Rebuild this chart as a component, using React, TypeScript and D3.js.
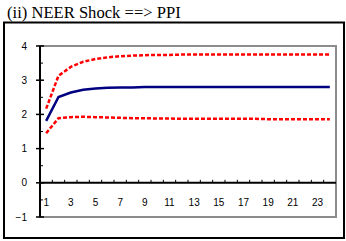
import * as d3 from "d3";

// period index of the impulse response (1..24)
const periods = d3.range(1, 25);
const xTickLabels = [1, 3, 5, 7, 9, 11, 13, 15, 17, 19, 21, 23];
const yTicks = [-1, 0, 1, 2, 3, 4];

// point estimate
const response = [
  1.81, 2.51, 2.64, 2.72, 2.76, 2.78, 2.79, 2.79, 2.8, 2.8, 2.8, 2.8,
  2.8, 2.8, 2.8, 2.8, 2.8, 2.8, 2.8, 2.8, 2.8, 2.8, 2.8, 2.8,
];
// upper confidence band
const upper = [
  2.17, 3.13, 3.39, 3.54, 3.62, 3.67, 3.7, 3.72, 3.73, 3.74, 3.74, 3.75,
  3.75, 3.75, 3.75, 3.75, 3.75, 3.75, 3.75, 3.75, 3.75, 3.75, 3.75, 3.75,
];
// lower confidence band
const lower = [
  1.45, 1.89, 1.92, 1.93, 1.92, 1.91, 1.9, 1.89, 1.89, 1.88, 1.88, 1.87,
  1.87, 1.87, 1.87, 1.87, 1.87, 1.87, 1.86, 1.86, 1.86, 1.86, 1.86, 1.86,
];

export default function App() {
  const width = 346;
  const height = 241;
  const plot = { left: 40, right: 336, top: 46, bottom: 217 };

  const x = d3
    .scaleBand<number>()
    .domain(periods)
    .range([plot.left, plot.right]);
  const y = d3.scaleLinear().domain([-1, 4]).range([plot.bottom, plot.top]);
  const cx = (p: number) => (x(p) ?? 0) + x.bandwidth() / 2;

  const line = (vals: number[]) =>
    d3
      .line<number>()
      .x((_, i) => cx(periods[i]))
      .y((d) => y(d))(vals) ?? "";

  const fmt = d3.format("d");
  const minor = d3.range(-0.5, 4, 1);
  const font = "'Liberation Sans', Arial, sans-serif";

  return (
    <svg
      width={width}
      height={height}
      style={{ position: "fixed", left: 0, top: 0, background: "#fff" }}
    >
      <text
        x={7}
        y={18}
        fontFamily="'Liberation Serif', 'Times New Roman', serif"
        fontSize={16.6}
      >
        (ii) NEER Shock ==&gt; PPI
      </text>
      <rect x={4} y={22.5} width={340} height={215.5} fill="none" stroke="#000" strokeWidth={2} />

      {/* plot area frame */}
      <rect
        x={plot.left}
        y={plot.top}
        width={plot.right - plot.left}
        height={plot.bottom - plot.top}
        fill="none"
        stroke="#8c8c8c"
        strokeWidth={2}
      />

      {/* value axis */}
      <line x1={plot.left} x2={plot.left} y1={plot.top} y2={plot.bottom} stroke="#000" strokeWidth={2} />
      {yTicks.map((t) => (
        <g key={t}>
          <line x1={plot.left - 4} x2={plot.left + 4} y1={y(t)} y2={y(t)} stroke="#000" strokeWidth={1.5} />
          <text
            x={27}
            y={y(t)}
            dy="0.35em"
            textAnchor="end"
            fontFamily={font}
            fontSize={10}
          >
            {fmt(t)}
          </text>
        </g>
      ))}
      {minor.map((t) => (
        <line key={t} x1={plot.left} x2={plot.left + 3} y1={y(t)} y2={y(t)} stroke="#000" strokeWidth={1} />
      ))}

      {/* category axis crossing at 0 */}
      <line x1={plot.left} x2={plot.right} y1={y(0)} y2={y(0)} stroke="#000" strokeWidth={2} />
      {periods.slice(1).map((p) => (
        <line
          key={p}
          x1={x(p)}
          x2={x(p)}
          y1={y(0) - 3}
          y2={y(0)}
          stroke="#000"
          strokeWidth={1}
        />
      ))}
      {xTickLabels.map((p) => (
        <text
          key={p}
          x={cx(p)}
          y={y(0) + 20}
          dy="0.35em"
          textAnchor="middle"
          fontFamily={font}
          fontSize={10}
        >
          {p}
        </text>
      ))}

      <path d={line(upper)} fill="none" stroke="#ff0000" strokeWidth={2.5} strokeDasharray="4,2" />
      <path d={line(lower)} fill="none" stroke="#ff0000" strokeWidth={2.5} strokeDasharray="4,2" />
      <path d={line(response)} fill="none" stroke="#000080" strokeWidth={2.5} />
    </svg>
  );
}
